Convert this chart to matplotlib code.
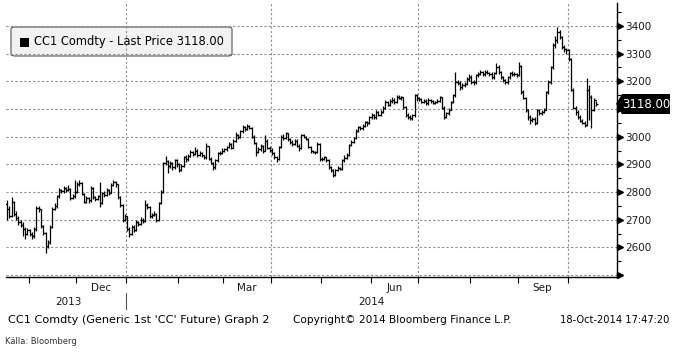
import numpy as np
import pandas as pd
import matplotlib
matplotlib.use("Agg")
import matplotlib.pyplot as plt
import matplotlib.transforms as mtrans
from matplotlib.patches import FancyBboxPatch, Rectangle, Polygon
from matplotlib.ticker import MultipleLocator

# Daily CC1 bars, 18-Oct-2013 .. 17-Oct-2014 (business days)
closes = [
    # Oct 2013
    2740, 2712, 2765, 2722, 2705, 2690, 2682, 2668, 2650, 2662,
    # Nov
    2648, 2640, 2665, 2742, 2738, 2678, 2652, 2605, 2618, 2675, 2740, 2748, 2785, 2808,
    2802, 2815, 2808, 2812, 2780, 2785, 2800,
    # Dec
    2828, 2833, 2792, 2765, 2778, 2770, 2814, 2782, 2776, 2785, 2760, 2795, 2790, 2808,
    2798, 2825, 2835, 2828, 2782, 2752, 2700, 2712,
    # Jan 2014
    2668, 2650, 2675, 2662, 2690, 2685, 2700, 2695, 2752, 2745, 2712, 2718, 2720, 2700,
    2760, 2800, 2905, 2912, 2895, 2905, 2890, 2915, 2900,
    # Feb
    2880, 2895, 2925, 2918, 2930, 2945, 2938, 2950, 2935, 2940, 2932, 2925, 2965, 2920,
    2905, 2890, 2915, 2940, 2942, 2950,
    # Mar
    2955, 2962, 2975, 2960, 2985, 3005, 2998, 3020, 3035, 3028, 3040, 3032, 3000, 2978,
    2945, 2955, 2965, 2950, 2985, 2960, 2952,
    # Apr
    2940, 2925, 2918, 2962, 3000, 2995, 3012, 2990, 2982, 2975, 2985, 2968, 2958, 3005,
    3000, 2992, 2962, 2948, 2945, 2944, 2975, 2918,
    # May
    2920, 2925, 2915, 2890, 2880, 2860, 2880, 2888, 2885, 2915, 2922, 2935, 2970, 2982,
    2995, 3022, 3035, 3030, 3038, 3052, 3048, 3070,
    # Jun
    3078, 3070, 3088, 3080, 3090, 3105, 3125, 3115, 3128, 3132, 3125, 3145, 3140, 3142,
    3108, 3080, 3072, 3068, 3078, 3150, 3140,
    # Jul
    3135, 3125, 3130, 3120, 3132, 3128, 3122, 3125, 3130, 3142, 3105, 3072, 3085, 3098,
    3125, 3150, 3198, 3195, 3178, 3188, 3190, 3210, 3216,
    # Aug
    3198, 3196, 3222, 3228, 3232, 3225, 3235, 3230, 3228, 3215, 3230, 3252, 3232, 3215,
    3205, 3196, 3215, 3230, 3228, 3225, 3222,
    # Sep
    3255, 3162, 3140, 3095, 3070, 3060, 3065, 3050, 3095, 3085, 3090, 3098, 3160, 3198,
    3250, 3330, 3350, 3378, 3360, 3325, 3315, 3312,
    # Oct
    3280, 3170, 3105, 3088, 3070, 3058, 3050, 3042, 3170, 3145, 3098, 3132, 3118,
]

highs = [
    2770, 2748, 2782, 2768, 2730, 2712, 2698, 2690, 2672, 2670,
    2668, 2655, 2672, 2750, 2748, 2740, 2682, 2655, 2628, 2680, 2745, 2760, 2790, 2815,
    2812, 2822, 2818, 2825, 2815, 2792, 2845,
    2835, 2842, 2838, 2798, 2785, 2782, 2820, 2818, 2785, 2790, 2836, 2800, 2802, 2815,
    2812, 2832, 2843, 2840, 2830, 2785, 2758, 2720,
    2715, 2675, 2680, 2682, 2698, 2695, 2708, 2705, 2771, 2760, 2750, 2725, 2730, 2725,
    2765, 2808, 2910, 2930, 2915, 2912, 2910, 2920, 2920,
    2905, 2900, 2930, 2932, 2938, 2952, 2950, 2963, 2955, 2948, 2945, 2935, 2977, 2968,
    2925, 2910, 2920, 2945, 2950, 2958,
    2960, 2968, 2980, 2978, 2990, 3017, 3010, 3025, 3042, 3038, 3045, 3042, 3035, 3005,
    2980, 2962, 2972, 2970, 3006, 2990, 2965,
    2958, 2945, 2930, 2968, 3005, 3008, 3018, 3015, 2995, 2988, 2992, 2990, 2972, 3008,
    3010, 3004, 2995, 2968, 2952, 2950, 2981, 2978,
    2925, 2930, 2928, 2918, 2895, 2885, 2885, 2895, 2892, 2920, 2935, 2940, 2975, 2988,
    3000, 3028, 3040, 3040, 3045, 3058, 3055, 3075,
    3085, 3082, 3095, 3092, 3098, 3110, 3132, 3130, 3135, 3143, 3138, 3150, 3152, 3148,
    3145, 3112, 3085, 3078, 3082, 3155, 3155,
    3145, 3140, 3135, 3135, 3138, 3136, 3132, 3130, 3135, 3148, 3145, 3110, 3090, 3102,
    3130, 3155, 3234, 3205, 3200, 3195, 3198, 3215, 3225,
    3222, 3205, 3228, 3235, 3240, 3238, 3242, 3240, 3235, 3232, 3235, 3266, 3258, 3238,
    3220, 3210, 3220, 3235, 3236, 3232, 3230,
    3270, 3258, 3168, 3145, 3100, 3078, 3072, 3070, 3100, 3100, 3095, 3102, 3165, 3205,
    3255, 3340, 3365, 3396, 3385, 3365, 3330, 3322,
    3318, 3285, 3175, 3110, 3095, 3078, 3065, 3058, 3212, 3185, 3150, 3140, 3130,
]

lows = [
    2700, 2705, 2708, 2715, 2698, 2682, 2675, 2640, 2630, 2645,
    2640, 2630, 2635, 2660, 2728, 2670, 2645, 2580, 2598, 2612, 2670, 2735, 2742, 2780,
    2795, 2798, 2800, 2802, 2770, 2775, 2780,
    2795, 2820, 2788, 2760, 2760, 2762, 2765, 2775, 2768, 2770, 2746, 2755, 2782, 2785,
    2790, 2795, 2820, 2818, 2775, 2745, 2690, 2695,
    2660, 2638, 2645, 2655, 2658, 2678, 2680, 2688, 2690, 2738, 2705, 2705, 2712, 2690,
    2695, 2755, 2795, 2898, 2870, 2888, 2880, 2885, 2890,
    2872, 2875, 2890, 2910, 2912, 2925, 2930, 2932, 2928, 2930, 2925, 2918, 2920, 2915,
    2900, 2880, 2885, 2910, 2935, 2938,
    2945, 2950, 2958, 2955, 2958, 2980, 2992, 2995, 3015, 3022, 3025, 3028, 2995, 2972,
    2930, 2940, 2950, 2942, 2948, 2955, 2945,
    2935, 2918, 2909, 2915, 2958, 2988, 2990, 2985, 2975, 2968, 2970, 2962, 2950, 2955,
    2995, 2988, 2958, 2942, 2940, 2938, 2940, 2912,
    2912, 2915, 2910, 2885, 2872, 2855, 2858, 2875, 2878, 2880, 2910, 2918, 2930, 2965,
    2978, 2990, 3018, 3025, 3025, 3035, 3040, 3045,
    3065, 3065, 3065, 3075, 3075, 3085, 3100, 3110, 3110, 3120, 3118, 3120, 3135, 3132,
    3100, 3070, 3065, 3060, 3062, 3072, 3130,
    3128, 3120, 3120, 3115, 3115, 3122, 3118, 3118, 3120, 3125, 3100, 3065, 3068, 3080,
    3095, 3120, 3145, 3185, 3170, 3172, 3180, 3185, 3200,
    3190, 3185, 3190, 3215, 3222, 3218, 3220, 3225, 3220, 3208, 3210, 3225, 3225, 3210,
    3198, 3190, 3192, 3210, 3220, 3218, 3215,
    3218, 3155, 3135, 3090, 3062, 3045, 3052, 3042, 3045, 3080, 3080, 3085, 3095, 3155,
    3192, 3245, 3320, 3340, 3352, 3318, 3305, 3300,
    3275, 3165, 3100, 3080, 3065, 3052, 3045, 3035, 3040, 3060, 3031, 3092, 3110,
]

first_open = 2755
opens = [first_open] + closes[:-1]
last_price = 3118.00

dates = pd.bdate_range("2013-10-18", "2014-10-17")
y_ticks = [2500, 2600, 2700, 2800, 2900, 3000, 3100, 3200, 3300, 3400]
month_labels = {12: "Dec", 3: "Mar", 6: "Jun", 9: "Sep"}

W, H = 675, 352
fig = plt.figure(figsize=(W / 100, H / 100), dpi=100)
fig.patch.set_facecolor("white")

def fx(px):
    return px / W

def fy(py):
    return 1 - py / H

# plot area in pixels (first bar sits at px 7, 2.265 px per day)
L, R, T, B = 6, 617, 3, 277
x0, step = 7, 2.265
xl = ((L - x0) / step, (R - x0) / step)
ax = fig.add_axes([fx(L), fy(B), fx(R) - fx(L), fy(T) - fy(B)])
ax.set_xlim(*xl)
ax.set_ylim(2493, 3483)
ax.set_facecolor("none")

x = np.arange(len(closes))
tick = 0.85
ax.vlines(x, lows, highs, color="black", lw=0.9, zorder=3)
ax.hlines(opens, x - tick, x, color="black", lw=0.9, zorder=3)
ax.hlines(closes, x, x + tick, color="black", lw=0.9, zorder=3)

# month boundaries
months = dates.to_period("M")
starts = [i for i in range(1, len(dates)) if months[i] != months[i - 1]]
bounds = [s - 0.5 for s in starts]

grid_kw = dict(color="#8c8c8c", lw=0.8, linestyle=(0, (2, 2)), zorder=1)
for v in y_ticks:
    ax.axhline(v, **grid_kw)
for s, b in zip(starts, bounds):
    if dates[s].month in (1, 4, 7, 10):
        ax.axvline(b, **grid_kw)

# axes frame
for side in ("left", "top"):
    ax.spines[side].set_visible(False)
ax.spines["bottom"].set_color("black")
ax.spines["right"].set_color("black")
ax.spines["bottom"].set_linewidth(1)
ax.spines["right"].set_linewidth(1)

ax.set_xticks(bounds)
ax.set_xticklabels([])
ax.tick_params(axis="x", length=4, width=0.8, direction="out", color="black")

ax.yaxis.tick_right()
ax.set_yticks(y_ticks)
ax.set_yticklabels([str(v) if v > 2500 else "" for v in y_ticks])
ax.yaxis.set_minor_locator(MultipleLocator(50))
ax.tick_params(axis="y", which="major", length=0, pad=6, labelsize=7.5,
               labelcolor="#1a1a1a")
ax.tick_params(axis="y", which="minor", length=3, width=0.8, color="black")

yt = mtrans.blended_transform_factory(ax.transAxes, ax.transData)
wpx = R - L
ax.plot([1.0 + 3 / wpx] * len(y_ticks), y_ticks, ls="none", marker=">",
        ms=4.5, color="black", transform=yt, clip_on=False, zorder=5)

# last price tag (covers the 3100 label, as in the original)
py = ax.transData.transform((0, last_price))[1]
tag_y = H - py
tag = Polygon([(fx(616), fy(tag_y)), (fx(622), fy(tag_y - 10)),
               (fx(670), fy(tag_y - 10)), (fx(670), fy(tag_y + 10)),
               (fx(622), fy(tag_y + 10))],
              closed=True, transform=fig.transFigure, fc="black", ec="none",
              zorder=6, clip_on=False)
ax.add_patch(tag)
fig.text(fx(646), fy(tag_y), f"{last_price:.2f}", ha="center", va="center",
         color="white", fontsize=8.5, zorder=7)

# legend box
leg = FancyBboxPatch((fx(11), fy(56)), fx(221), fy(0) - fy(29),
                     boxstyle="round,pad=0,rounding_size=0.006",
                     transform=fig.transFigure, fc="#f2f2f2", ec="#555555",
                     lw=0.8, zorder=0.5, clip_on=False)
ax.add_patch(leg)
ax.add_patch(Rectangle((fx(20), fy(47)), fx(9), fy(0) - fy(9),
                       transform=fig.transFigure, fc="black", ec="none",
                       zorder=4, clip_on=False))
fig.text(fx(34), fy(42), "CC1 Comdty - Last Price 3118.00", fontsize=8.3,
         va="center", ha="left", color="black", zorder=4)

# month and year labels under the axis
xt = mtrans.blended_transform_factory(ax.transData, fig.transFigure)
edges = bounds + [xl[1]]
for k, s in enumerate(starts):
    m = dates[s].month
    if m in month_labels:
        mid = (edges[k] + edges[k + 1]) / 2
        ax.text(mid, fy(288), month_labels[m], transform=xt, ha="center",
                va="center", fontsize=7.5, color="#1a1a1a")

jan = bounds[[dates[s].month for s in starts].index(1)]
ax.text((xl[0] + jan) / 2 + 1, fy(302), "2013", transform=xt, ha="center",
        va="center", fontsize=7.5, color="#1a1a1a")
ax.text((jan + xl[1]) / 2, fy(302), "2014", transform=xt, ha="center",
        va="center", fontsize=7.5, color="#1a1a1a")
ax.plot([jan, jan], [fy(293), fy(309)], transform=xt, color="#555555", lw=0.8,
        clip_on=False)

# footer
fig.text(fx(8), fy(320), "CC1 Comdty (Generic 1st 'CC' Future) Graph 2",
         fontsize=8.1, va="center", ha="left", color="black")
fig.text(fx(293), fy(320), "Copyright\u00a9 2014 Bloomberg Finance L.P.",
         fontsize=7.6, va="center", ha="left", color="black")
fig.text(fx(669), fy(320), "18-Oct-2014 17:47:20", fontsize=7.1,
         va="center", ha="right", color="black")
fig.text(fx(5), fy(342), "Källa: Bloomberg", fontsize=6, va="center",
         ha="left", color="#333333", family="DejaVu Sans Condensed")

fig.savefig("out.png", dpi=100, facecolor="white")
